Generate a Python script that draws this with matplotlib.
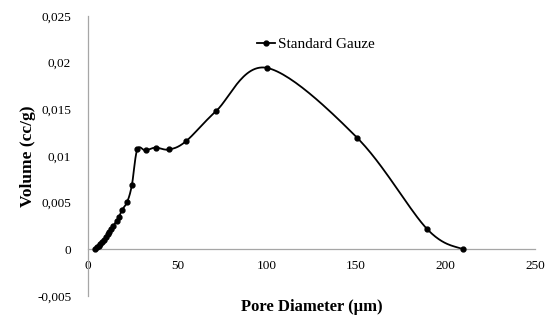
import numpy as np
import matplotlib.pyplot as plt
from matplotlib.ticker import FuncFormatter

# pore size distribution, standard gauze
pore_diameter = [4, 5, 6, 7, 8, 9, 10, 11, 12, 13, 14, 16, 17.5, 19, 22, 24.6,
                 27.6, 32.2, 37.8, 45.3, 54.7, 71.6, 99.9, 150.5, 189.5, 209.5]
volume = [0.0, 0.0002, 0.0004, 0.0006, 0.0008, 0.001, 0.0013, 0.0016, 0.0019,
          0.0022, 0.0025, 0.003, 0.0035, 0.0042, 0.0051, 0.0069,
          0.0107, 0.0106, 0.0109, 0.0107, 0.01156, 0.0148, 0.01945, 0.01196,
          0.0022, 0.0]

x_ticks = [0, 50, 100, 150, 200, 250]
y_ticks = [-0.005, 0, 0.005, 0.01, 0.015, 0.02, 0.025]


def smooth(xs, ys, n=30):
    # cubic bezier through every point, control points from neighbours (1/6 rule)
    p = np.column_stack([xs, ys])
    out = [p[0]]
    for i in range(len(p) - 1):
        p0 = p[i - 1] if i > 0 else p[i]
        p1, p2 = p[i], p[i + 1]
        p3 = p[i + 2] if i + 2 < len(p) else p[i + 1]
        c1 = p1 + (p2 - p0) / 6
        c2 = p2 - (p3 - p1) / 6
        t = np.linspace(0, 1, n)[1:, None]
        seg = ((1 - t) ** 3) * p1 + 3 * ((1 - t) ** 2) * t * c1 \
            + 3 * (1 - t) * t ** 2 * c2 + t ** 3 * p2
        out.extend(seg)
    out = np.array(out)
    return out[:, 0], out[:, 1]


plt.rcParams['font.family'] = ['Liberation Serif', 'DejaVu Serif']

fig = plt.figure(figsize=(5.46, 3.21), dpi=100)
ax = fig.add_axes([0.161, 0.078, 0.819, 0.872])

sx, sy = smooth(pore_diameter, volume)
ax.plot(sx, sy, color='black', lw=1.3, zorder=2)
ax.plot(pore_diameter, volume, 'o', color='black', ms=3.5, zorder=3)
ax.plot([], [], '-o', color='black', lw=1.3, ms=3.5, label='Standard Gauze')

ax.set_xlim(0, 250)
ax.set_ylim(-0.005, 0.025)
ax.set_xticks(x_ticks)
ax.set_yticks(y_ticks)
ax.yaxis.set_major_formatter(
    FuncFormatter(lambda v, pos: ('%g' % round(v, 4)).replace('.', ',')))

for s in ['top', 'right']:
    ax.spines[s].set_visible(False)
ax.spines['bottom'].set_position(('data', 0))
for s in ['left', 'bottom']:
    ax.spines[s].set_color('#a6a6a6')
    ax.spines[s].set_linewidth(0.9)

ax.tick_params(axis='x', length=0, pad=8, labelsize=9.5)
ax.tick_params(axis='y', length=0, pad=12, labelsize=9.5)

ax.set_xlabel('Pore Diameter (µm)', fontsize=12, fontweight='bold')
ax.xaxis.set_label_coords(0.5, -0.01)
ax.set_ylabel('Volume (cc/g)', fontsize=12.5, fontweight='bold')
ax.yaxis.set_label_coords(-0.115, 0.5)

ax.legend(loc='center', bbox_to_anchor=(0.51, 0.9), frameon=False,
          fontsize=11, handlelength=1.2, handletextpad=0.2)

fig.savefig('out.png', dpi=100)
